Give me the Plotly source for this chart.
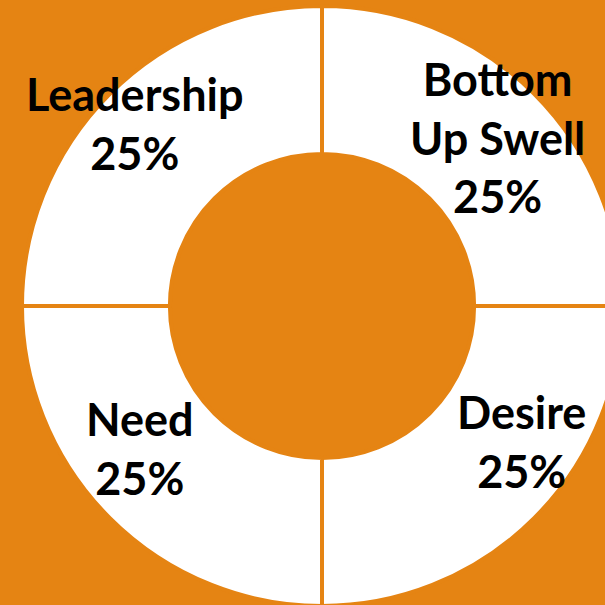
import plotly.graph_objects as go

labels = ["Bottom Up Swell", "Desire", "Need", "Leadership"]
display_labels = ["Bottom<br>Up Swell", "Desire", "Need", "Leadership"]
values = [25, 25, 25, 25]

ORANGE = "#E58413"
W, H = 644, 612

# label block centres in pixels (layout only)
label_px = {
    "Bottom Up Swell": (497, 137),
    "Desire": (521, 441),
    "Need": (140, 449),
    "Leadership": (135, 124),
}

fig = go.Figure(
    go.Pie(
        labels=labels,
        values=values,
        hole=0.507,
        sort=False,
        direction="clockwise",
        rotation=0,
        marker=dict(colors=["white"] * 4, line=dict(color=ORANGE, width=4)),
        textinfo="none",
        hoverinfo="label+percent",
        showlegend=False,
        domain=dict(x=[0, 1], y=[6 / H, 1 - 6 / H]),
    )
)

total = sum(values)
for lab, disp, v in zip(labels, display_labels, values):
    px, py = label_px[lab]
    pct = round(100 * v / total)
    fig.add_annotation(
        x=px / W, y=1 - py / H, xref="paper", yref="paper",
        text=f"<b>{disp}<br>{pct}%</b>",
        showarrow=False,
        font=dict(family="Lato", size=45, color="black"),
        align="center",
        xanchor="center", yanchor="middle",
    )

fig.update_layout(
    width=W, height=H,
    margin=dict(l=0, r=0, t=0, b=0),
    paper_bgcolor=ORANGE,
    plot_bgcolor=ORANGE,
)

fig.write_html(
    "out.html",
    post_script="document.body.style.overflow='hidden';document.documentElement.style.overflow='hidden';document.body.style.margin='0';",
)
